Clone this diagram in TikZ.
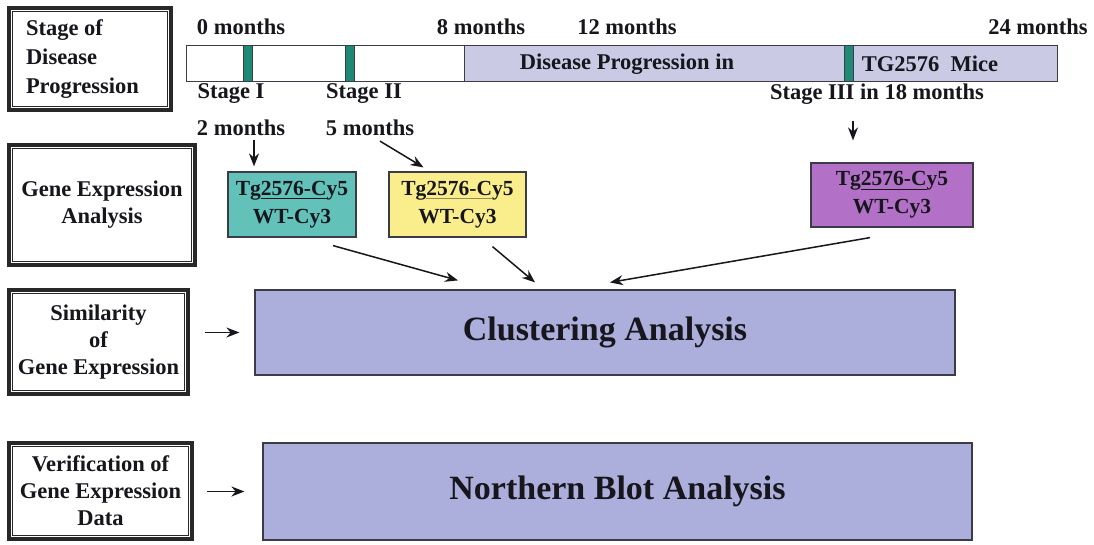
\documentclass[tikz,border=0pt]{standalone}
\usepackage{fontspec}
\setmainfont{Liberation Serif}
\usetikzlibrary{arrows.meta,calc}
\definecolor{txt}{RGB}{22,22,28}
\definecolor{frame}{RGB}{40,40,40}
\definecolor{edge}{RGB}{60,60,72}
\definecolor{lav}{RGB}{202,202,228}
\definecolor{clus}{RGB}{172,174,220}
\definecolor{mark}{RGB}{30,138,118}
\definecolor{cyanbox}{RGB}{98,194,186}
\definecolor{yelbox}{RGB}{250,238,140}
\definecolor{purbox}{RGB}{178,112,198}
\definecolor{faintline}{RGB}{150,140,90}
\newcommand\innerfr[1]{\draw[line width=1.1pt, draw=frame] ([xshift=5pt,yshift=-5pt]#1.north west) rectangle ([xshift=-5pt,yshift=5pt]#1.south east);}
\newcommand\ulx[2][txt]{\setbox0\hbox{#2}\rlap{\textcolor{#1}{\rule[-4pt]{\wd0}{1pt}}}\box0}
\begin{document}
\begin{tikzpicture}[x=1pt,y=-1pt,
  lbl/.style={font=\fontsize{22.5}{28}\selectfont\bfseries, text=txt, inner sep=0pt},
  lbox/.style={draw=frame, line width=3.5pt, fill=white, font=\fontsize{22.5}{27}\selectfont\bfseries, text=txt, align=center, inner sep=0pt},
  cbox/.style={draw=edge, line width=1.2pt, font=\fontsize{21.5}{28}\selectfont\bfseries, text=txt, align=center, inner sep=0pt},
  bigbox/.style={draw=edge, line width=1.2pt, fill=clus, font=\fontsize{34}{40}\selectfont\bfseries, text=txt, inner sep=0pt},
  arr/.style={draw=txt, line width=1.5pt, -{Stealth[length=13pt,width=10pt]}}]
\useasboundingbox[fill=white] (0,0) rectangle (1094,544);

% left label boxes
\node[lbox, minimum width=162pt, minimum height=102pt, text width=128pt, align=flush left, font=\fontsize{22.5}{29}\selectfont\bfseries] (b1) at (90,59) {Stage of\\Disease\\Progression};
\innerfr{b1}
\node[lbox, minimum width=186pt, minimum height=120pt] (b2) at (102,205) {Gene Expression\\Analysis};
\innerfr{b2}
\node[lbox, minimum width=179pt, minimum height=104pt] (b3) at (98.5,342) {Similarity\\of\\Gene Expression};
\innerfr{b3}
\node[lbox, minimum width=183pt, minimum height=96pt] (b4) at (100.5,491) {Verification of\\Gene Expression\\Data};
\innerfr{b4}

% timeline
\node[draw=edge, line width=1pt, fill=white, minimum width=278pt, minimum height=36pt, inner sep=0pt] (tw) at (325,63) {};
\node[draw=edge, line width=1pt, fill=lav, minimum width=593pt, minimum height=36pt, inner sep=0pt] (tl) at (760.5,63) {};
\node[draw=edge, line width=0.6pt, fill=mark, minimum width=9pt, minimum height=36pt, inner sep=0pt] (m1) at (247.5,63) {};
\node[draw=edge, line width=0.6pt, fill=mark, minimum width=9pt, minimum height=36pt, inner sep=0pt] (m2) at (349.5,63) {};
\node[draw=edge, line width=0.6pt, fill=mark, minimum width=9pt, minimum height=36pt, inner sep=0pt] (m3) at (848.5,63) {};

\node[lbl] (t0) at (241,27) {0 months};
\node[lbl] (t8) at (481,27) {8 months};
\node[lbl] (t12) at (627,27) {12 months};
\node[lbl] (t24) at (1038,27) {24 months};
\node[lbl] (dp) at (627,64) {Disease Progression in};
\node[lbl] (tg) at (930,64) {TG2576\ \ Mice};
\node[lbl] (s1) at (231,94) {Stage I};
\node[lbl] (s2) at (364,94) {Stage II};
\node[lbl] (s3) at (877,94) {Stage III in 18 months};
\node[lbl] (mo2) at (241,128) {2 months};
\node[lbl] (mo5) at (370,128) {5 months};

% gene expression boxes
\node[cbox, fill=cyanbox, minimum width=128pt, minimum height=65pt] (cy) at (292,204.5) {Tg\ulx{2576-C}y5\\WT-Cy3};
\node[cbox, fill=yelbox, minimum width=137pt, minimum height=65pt] (ye) at (457.5,204.5) {Tg\ulx[faintline]{2576-C}y5\\WT-Cy3};
\node[cbox, fill=purbox, minimum width=162pt, minimum height=64pt] (pu) at (892,195) {Tg\ulx{2576-C}y5\\WT-Cy3};

% analysis boxes
\node[bigbox, minimum width=700pt, minimum height=85pt] (cl) at (605,332.5) {Clustering Analysis};
\node[bigbox, minimum width=709pt, minimum height=97pt] (nb) at (617.5,491.5) {Northern Blot Analysis};

% arrows
\draw[arr] ([xshift=13pt,yshift=-4pt]mo2.south) -- ([xshift=-38pt,yshift=5pt]cy.north);
\draw[arr] ([xshift=10pt,yshift=-5pt]mo5.south) -- ([xshift=-34pt,yshift=4pt]ye.north);
\draw[arr] ([xshift=-24pt,yshift=-17pt]s3.south) -- ([xshift=-39pt,yshift=22pt]pu.north);
\draw[arr] ([xshift=41pt,yshift=-8pt]cy.south) -- ([xshift=-147pt,yshift=9pt]cl.north);
\draw[arr] ([xshift=35pt,yshift=-9pt]ye.south) -- ([xshift=-70pt,yshift=7pt]cl.north);
\draw[arr] ([xshift=-22pt,yshift=-10pt]pu.south) -- ([xshift=5pt,yshift=7pt]cl.north);
\draw[arr] ($(b3.east |- cl.west)+(15,0)$) -- ($(cl.west)+(-15,0)$);
\draw[arr] ($(b4.east |- nb.west)+(13,0)$) -- ($(nb.west)+(-18,0)$);
\end{tikzpicture}
\end{document}
